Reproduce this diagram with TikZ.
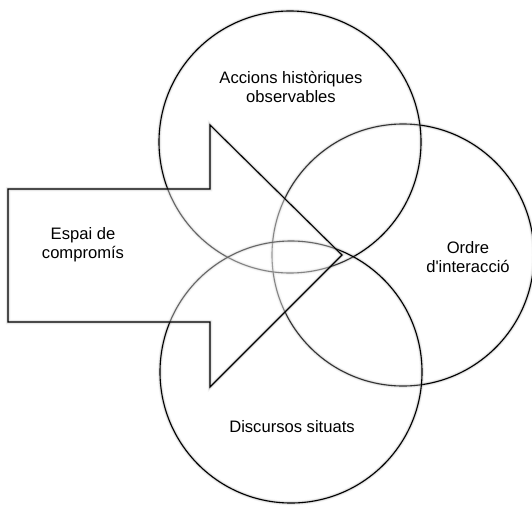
\documentclass[tikz,border=0pt]{standalone}
\usepackage{fontspec}
\setmainfont{Liberation Sans}
\begin{document}
\begin{tikzpicture}[x=1pt,y=-1pt,
  glowa/.style={draw=black!45,line width=4.5pt,opacity=0.10},
  glowb/.style={draw=black!55,line width=2.6pt,opacity=0.22},
  edge/.style={draw=black,line width=1.1pt},
  veil/.style={fill=white,fill opacity=0.2},
  aveil/.style={fill=white,fill opacity=0.4},
  ring/.style={circle,minimum size=262pt,inner sep=0pt},
  lbl/.style={align=center,font=\fontsize{16.6}{19}\selectfont,text=black}]
\useasboundingbox (0,0) rectangle (532,506);
\fill[white] (0,0) rectangle (532,506);
% named circles
\node[ring] (top) at (290,142) {};
\node[ring] (bot) at (291,372) {};
\node[ring] (rgt) at (403,255) {};
% arrow corners
\coordinate (a1) at (8,189);
\coordinate (a2) at (210,189);
\coordinate (a3) at (210,125);
\coordinate (a4) at (342,255);
\coordinate (a5) at (210,387);
\coordinate (a6) at (210,322);
\coordinate (a7) at (8,322);
% shapes, back to front: veil of white, glow, edge
\foreach \c in {rgt,top,bot}{
  \path[veil] (\c) circle (131pt);
  \draw[glowa] (\c) circle (131pt);
  \draw[glowb] (\c) circle (131pt);
  \draw[edge] (\c) circle (131pt);
}
\path[aveil] (a1) -- (a2) -- (a3) -- (a4) -- (a5) -- (a6) -- (a7) -- cycle;
\draw[glowa,line join=miter] (a1) -- (a2) -- (a3) -- (a4) -- (a5) -- (a6) -- (a7) -- cycle;
\draw[glowb,line join=miter] (a1) -- (a2) -- (a3) -- (a4) -- (a5) -- (a6) -- (a7) -- cycle;
\draw[edge,line join=miter] (a1) -- (a2) -- (a3) -- (a4) -- (a5) -- (a6) -- (a7) -- cycle;
% labels
\node[lbl] (ltop) at (291,87) {Accions històriques\\observables};
\node[lbl] (larr) at (83,245) {Espai de\\compromís};
\node[lbl] (lrgt) at (468,257) {Ordre\\d\textquotesingle interacció};
\node[lbl] (lbot) at (292,427) {Discursos situats};
\end{tikzpicture}
\end{document}
